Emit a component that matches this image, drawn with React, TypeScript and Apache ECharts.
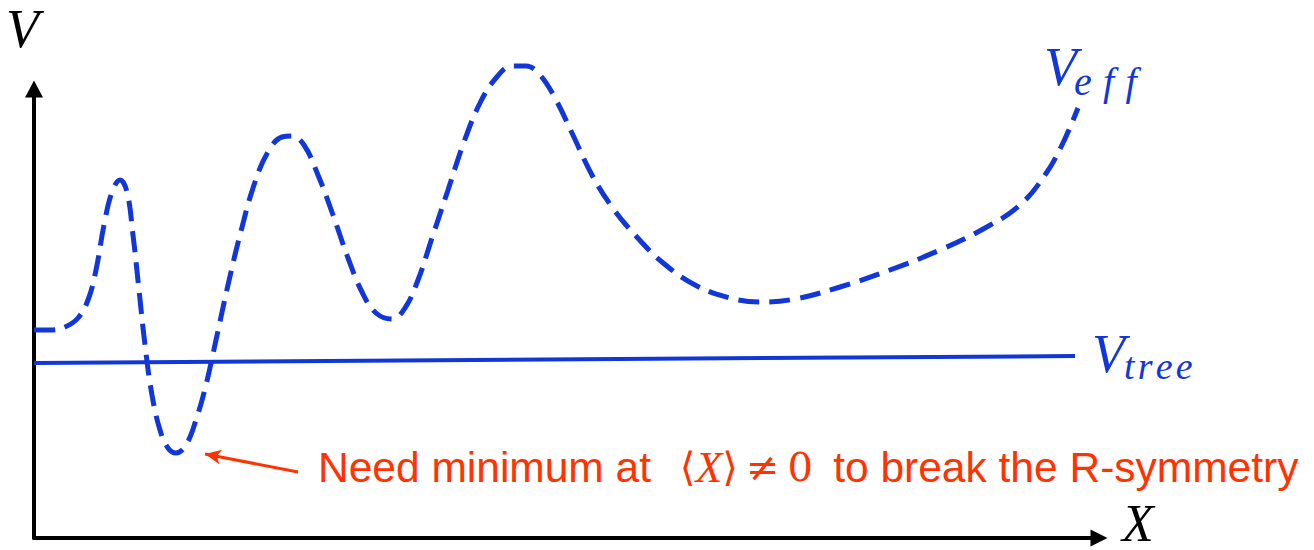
import React, { useEffect, useRef } from "react";
import * as echarts from "echarts";

// Effective potential (dashed) — x: distance along X axis, y: height above X axis
const effX = [0, 16, 31, 44, 54, 62, 70, 78, 86, 93, 99, 105, 111, 118, 126, 134, 142, 152, 162, 172, 182, 194, 206, 220, 234, 248, 258, 270, 284, 299, 314, 328, 342, 358, 371, 384, 398, 414, 430, 446, 462, 478, 492, 506, 521, 538, 558, 578, 601, 628, 661, 696, 726, 761, 806, 856, 906, 951, 986, 1011, 1028, 1044];
const effY = [208, 208, 211, 220, 238, 268, 313, 346, 358, 346, 303, 248, 193, 143, 108, 90, 85, 93, 118, 153, 198, 253, 303, 353, 386, 401, 402, 393, 363, 323, 280, 246, 225, 219, 230, 258, 300, 348, 396, 435, 460, 472, 472, 463, 440, 405, 363, 331, 303, 276, 253, 240, 236, 239, 251, 268, 288, 310, 333, 363, 393, 430];

// Tree-level potential (solid)
const treeX = [0, 1041];
const treeY = [175, 182];

// Annotation arrow: from text to minimum
const arrowFrom = [264, 66];
const arrowTo = [171, 84];

const xMax = 1065;
const yMax = 449;

const BLUE = "#1237d8";
const RED = "#ff3300";

export default function App() {
  const ref = useRef<HTMLDivElement>(null);
  useEffect(() => {
    document.body.style.margin = "0";
    const chart = echarts.init(ref.current!, null, { renderer: "svg" });
    const axisLine = (size: number[]) => ({
      show: true,
      symbol: ["none", "triangle"],
      symbolSize: size,
      lineStyle: { color: "#000", width: 4 },
    });
    chart.setOption({
      animation: false,
      grid: { left: 34, right: 215, top: 89, bottom: 12 },
      xAxis: {
        type: "value",
        min: 0,
        max: xMax,
        axisLine: axisLine([17, 17]),
        axisTick: { show: false },
        axisLabel: { show: false },
        splitLine: { show: false },
      },
      yAxis: {
        type: "value",
        min: 0,
        max: yMax,
        axisLine: axisLine([18, 17]),
        axisTick: { show: false },
        axisLabel: { show: false },
        splitLine: { show: false },
      },
      series: [
        {
          type: "line",
          name: "Veff",
          data: effX.map((x, i) => [x, effY[i]]),
          smooth: 0.4,
          showSymbol: false,
          clip: false,
          lineStyle: { color: BLUE, width: 5, type: [21, 10] },
          silent: true,
        },
        {
          type: "line",
          name: "Vtree",
          data: treeX.map((x, i) => [x, treeY[i]]),
          showSymbol: false,
          clip: false,
          lineStyle: { color: BLUE, width: 4 },
          silent: true,
          markLine: {
            silent: true,
            symbol: ["none", "arrow"],
            symbolSize: [11, 16],
            label: { show: false },
            lineStyle: { color: RED, width: 3, type: "solid" },
            data: [[{ coord: arrowFrom }, { coord: arrowTo }]],
          },
        },
      ],
      graphic: [
        {
          type: "text",
          left: 6,
          top: 2,
          style: { text: "V", font: "italic 54px 'Liberation Serif', serif", fill: "#000" },
        },
        {
          type: "text",
          left: 1122,
          top: 497,
          style: { text: "X", font: "italic 52px 'Liberation Serif', serif", fill: "#000" },
        },
        {
          type: "text",
          left: 1044,
          top: 40,
          style: { text: "V", font: "italic 54px 'Liberation Serif', serif", fill: BLUE },
        },
        {
          type: "text",
          left: 1074,
          top: 61,
          style: { text: "e\u2009\u200Af\u2009\u200Af", font: "italic 40px 'Liberation Serif', serif", fill: BLUE },
        },
        {
          type: "text",
          left: 1092,
          top: 327,
          style: { text: "V", font: "italic 54px 'Liberation Serif', serif", fill: BLUE },
        },
        {
          type: "text",
          left: 1124,
          top: 347,
          style: { text: "t\u200Ar\u200Ae\u200Ae", font: "italic 38px 'Liberation Serif', serif", fill: BLUE },
        },
        {
          type: "text",
          left: 318,
          top: 445,
          style: {
            text: "{a|Need minimum at \u2009\u2009}{m|\u27E8}{i|X}{m|\u27E9\u2009\u2260\u20090}{a| \u2009to break the R-symmetry}",
            fill: RED,
            rich: {
              a: { font: "42.5px 'Liberation Sans', Arial, sans-serif", fill: RED },
              m: { font: "40px 'DejaVu Serif', 'Liberation Serif', serif", fill: RED },
              i: { font: "italic 44px 'Liberation Serif', serif", fill: RED },
            },
          },
        },
      ],
    });
    return () => chart.dispose();
  }, []);
  return <div ref={ref} style={{ width: 1314, height: 550 }} />;
}
